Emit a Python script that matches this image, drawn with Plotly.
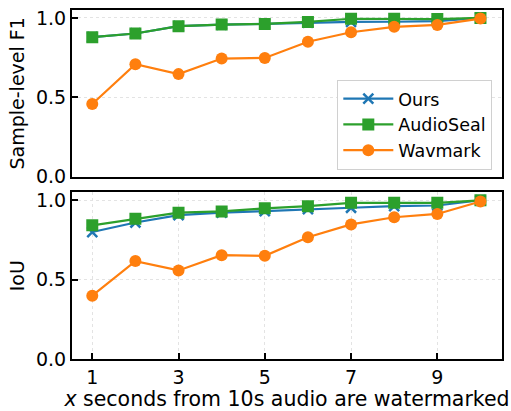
import plotly.graph_objects as go
from plotly.subplots import make_subplots

x_seconds = [1, 2, 3, 4, 5, 6, 7, 8, 9, 10]

f1_ours = [0.879, 0.902, 0.948, 0.958, 0.962, 0.970, 0.975, 0.976, 0.980, 1.0]
f1_audioseal = [0.879, 0.902, 0.948, 0.958, 0.962, 0.975, 0.995, 0.995, 0.993, 1.0]
f1_wavmark = [0.458, 0.708, 0.646, 0.744, 0.748, 0.850, 0.910, 0.944, 0.956, 0.996]

iou_ours = [0.800, 0.860, 0.907, 0.922, 0.932, 0.944, 0.953, 0.963, 0.967, 1.0]
iou_audioseal = [0.842, 0.883, 0.922, 0.930, 0.949, 0.963, 0.984, 0.984, 0.984, 1.0]
iou_wavmark = [0.399, 0.617, 0.558, 0.654, 0.650, 0.767, 0.848, 0.893, 0.914, 0.992]

names = ["Ours", "AudioSeal", "Wavmark"]
colors = ["#1f77b4", "#2ca02c", "#ff7f0e"]
symbols = ["x-thin", "square", "circle"]
sizes = [10, 12, 12]

fig = make_subplots(rows=2, cols=1, shared_xaxes=True, vertical_spacing=16 / 356)

for row, series in [(1, [f1_ours, f1_audioseal, f1_wavmark]),
                    (2, [iou_ours, iou_audioseal, iou_wavmark])]:
    for i, ys in enumerate(series):
        fig.add_trace(go.Scatter(
            x=x_seconds, y=ys, mode="lines+markers", name=names[i],
            showlegend=(row == 1),
            line=dict(color=colors[i], width=2.2),
            marker=dict(symbol=symbols[i], size=sizes[i], color=colors[i],
                        line=dict(color=colors[i], width=2.5 if i == 0 else 0)),
        ), row=row, col=1)

font = dict(family="DejaVu Sans", size=19, color="black")
axis_common = dict(showline=True, linewidth=2, linecolor="black", mirror=True,
                   ticks="inside", ticklen=6, tickwidth=1.5, tickcolor="black",
                   showgrid=True, gridcolor="#e3e3e3", griddash="dot", gridwidth=1,
                   zeroline=False, tickfont=font)

for r in (1, 2):
    fig.update_xaxes(range=[0.53, 10.5], tickvals=[1, 3, 5, 7, 9], **axis_common, row=r, col=1)
    fig.update_yaxes(range=[0, 1.05], tickvals=[0, 0.5, 1.0], ticktext=["0.0", "0.5", "1.0"],
                     **axis_common, row=r, col=1)

fig.update_xaxes(showticklabels=False, ticks="", showgrid=False, row=1, col=1)
fig.update_xaxes(title=dict(text="<i>x</i> seconds from 10s audio are watermarked",
                            font=dict(family="DejaVu Sans", size=20.5, color="black"),
                            standoff=2), row=2, col=1)
fig.update_yaxes(title=dict(text="Sample-level F1", font=font, standoff=6), row=1, col=1)
fig.update_yaxes(title=dict(text="IoU", font=font, standoff=6), row=2, col=1)

fig.update_layout(
    width=511, height=411,
    margin=dict(l=72, r=8, t=7, b=48),
    paper_bgcolor="white", plot_bgcolor="white",
    font=font,
    legend=dict(x=0.617, y=0.80, xanchor="left", yanchor="top",
                bgcolor="white", bordercolor="#d0d0d0", borderwidth=1,
                font=dict(family="DejaVu Sans", size=17.5, color="black"),
                itemwidth=50, tracegroupgap=0),
)

fig.write_html("out.html")
